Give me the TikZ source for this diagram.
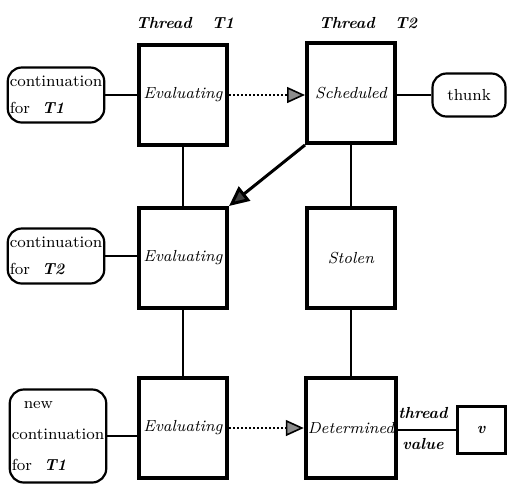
\documentclass[tikz,border=0pt]{standalone}
\usetikzlibrary{arrows.meta}

\begin{document}
\begin{tikzpicture}[
  x=0.5pt, y=-0.5pt,
  font=\footnotesize,
  state/.style={draw, line width=2pt, minimum width=44pt, minimum height=50pt, inner sep=1pt, font=\footnotesize\itshape},
  cont/.style={draw, line width=1.1pt, rounded corners=7pt, align=left, inner sep=1pt, minimum width=43.5pt},
  link/.style={line width=1.1pt},
  later/.style={line width=1.3pt, dash pattern=on 1pt off 1pt, -{Triangle[length=9pt,width=8pt,fill=black!45,line width=0.8pt]}},
  hd/.style={font=\footnotesize\bfseries\itshape}
]
  \useasboundingbox (0,0) rectangle (508,484);

  \node[hd] (h1) at (185,23) {Thread\hspace{10pt}T1};
  \node[hd] (h2) at (368,23) {Thread\hspace{10pt}T2};

  \node[state] (e1) at (183,95)  {Evaluating};
  \node[state] (sc) at (351,93)  {Scheduled};
  \node[state] (e2) at (183,258) {Evaluating};
  \node[state] (so) at (351,258) {Stolen};
  \node[state] (e3) at (183,428) {Evaluating};
  \node[state] (de) at (351,428) {Determined};

  \node[cont, minimum height=27.5pt] (c1) at (56,95)  {continuation\\[4pt]for\hspace{6pt}\textbf{\textit{T1}}};
  \node[cont, minimum height=27.5pt] (c2) at (56,256) {continuation\\[4pt]for\hspace{6pt}\textbf{\textit{T2}}};
  \node[cont, minimum height=46.5pt] (c3) at (58,436) {\hspace{6pt}new\\[6pt]continuation\\[6pt]for\hspace{6pt}\textbf{\textit{T1}}};
  \node[cont, minimum width=36.5pt, minimum height=21.5pt] (th) at (469,95) {thunk};
  \node[draw, line width=1.5pt, minimum width=24pt, minimum height=23.5pt, font=\footnotesize\bfseries\itshape] (v) at (481,430) {v};

  \node[hd] (tl) at (423,413) {thread};
  \node[hd] (vl) at (423,444) {value};

  \draw[link] (c1.east) -- (c1.east -| e1.west);
  \draw[link] (th.west -| sc.east) -- (th.west);
  \draw[link] (c2.east) -- (c2.east -| e2.west);
  \draw[link] (c3.east) -- (c3.east -| e3.west);
  \draw[link] (v.west -| de.east) -- (v.west);
  \draw[link] (e1) -- (e2);   \draw[link] (e2) -- (e3);
  \draw[link] (sc) -- (so);   \draw[link] (so) -- (de);

  \draw[later] (e1.east) -- (e1.east -| sc.west);
  \draw[later] (e3) -- (de);
  \draw[line width=1.5pt, -{Triangle[length=10pt,width=9pt,fill=black!75]}] (sc.south west) -- (e2.north east);
\end{tikzpicture}
\end{document}
